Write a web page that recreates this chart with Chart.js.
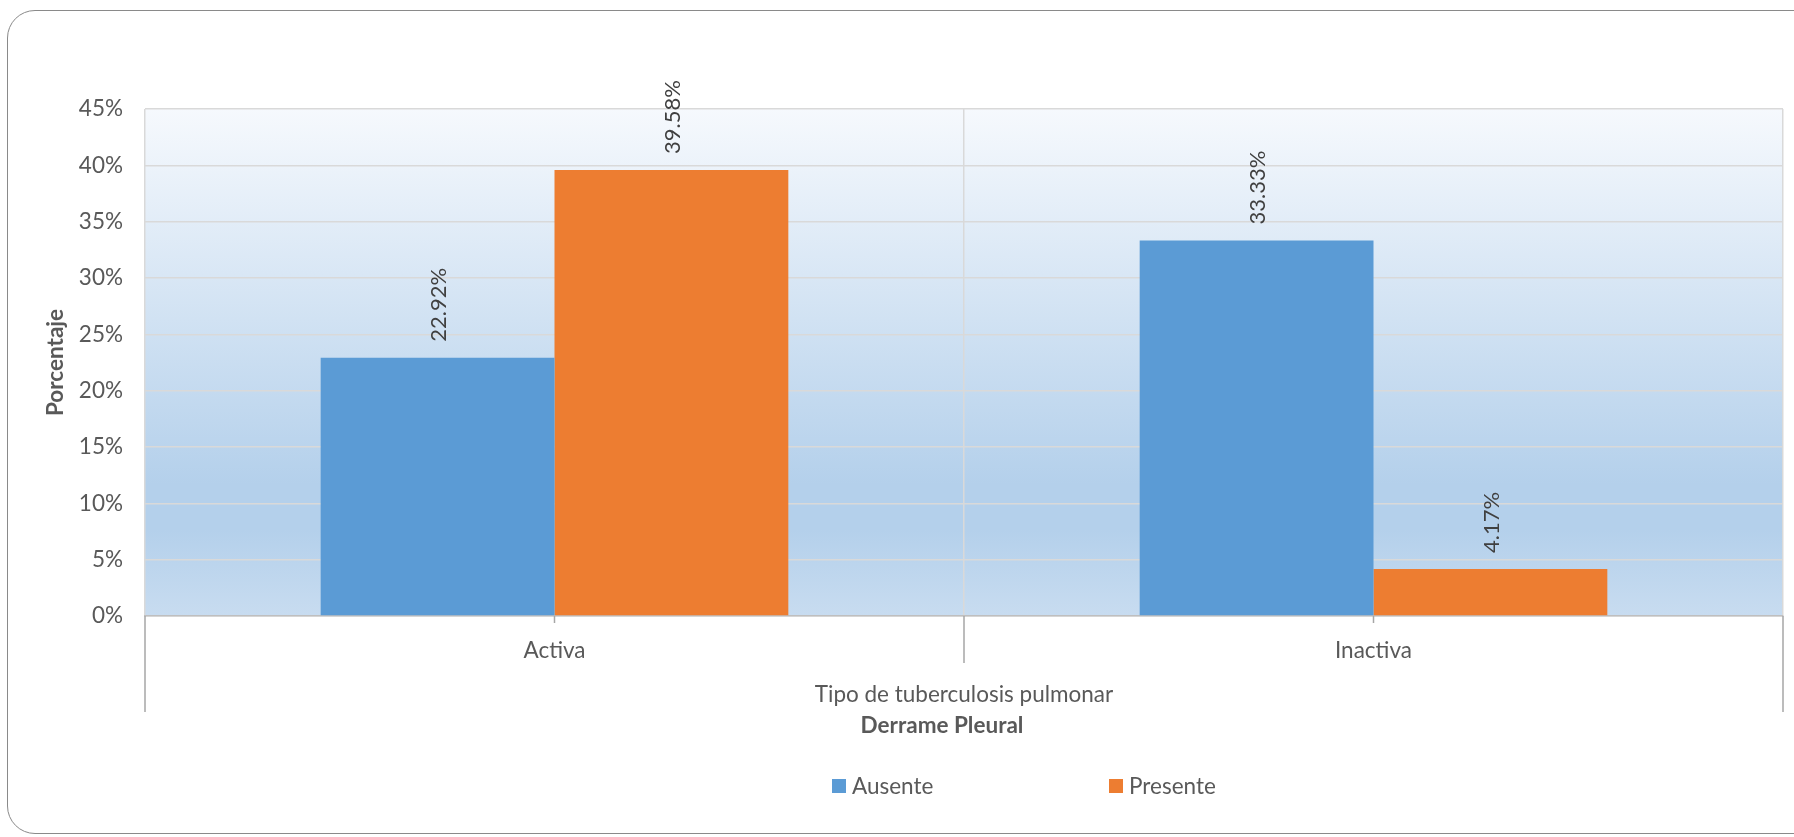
<!DOCTYPE html>
<html>
<head>
<meta charset="utf-8">
<script src="https://cdn.jsdelivr.net/npm/chart.js@4.4.1/dist/chart.umd.min.js"></script>
<style>
  html, body { margin: 0; padding: 0; background: #fff; overflow: hidden; }
  .card {
    position: absolute; left: 7px; top: 10px; width: 1820px; height: 822px;
    border: 1px solid #8a8a8a; border-radius: 28px; background: #fff;
  }
  #bar-chart { position: absolute; left: 0; top: 0; }
</style>
</head>
<body>
<div class="card"></div>
<canvas id="bar-chart" width="1794" height="837"></canvas>
<script>
// tipo de tuberculosis x derrame pleural (%)
const categories = ['Activa', 'Inactiva'];
const seriesNames = ['Ausente', 'Presente'];
const ausente = [22.92, 33.33];
const presente = [39.58, 4.17];
const yTicks = [0, 5, 10, 15, 20, 25, 30, 35, 40, 45];

const groupLabel = 'Tipo de tuberculosis pulmonar';
const axisTitle = 'Derrame Pleural';
const yTitle = 'Porcentaje';

const FONT = 'Lato';
const TEXT = '#595959';

// plot area fill, light to darker blue
const plotBackground = {
    id: 'plotBackground',
    beforeDraw(chart) {
        const { ctx, chartArea: a } = chart;
        const g = ctx.createLinearGradient(0, a.top, 0, a.bottom);
        g.addColorStop(0, '#f6f9fd');
        g.addColorStop(0.74, '#b4d0eb');
        g.addColorStop(0.83, '#b4d0eb');
        g.addColorStop(1, '#c8dcf0');
        ctx.save();
        ctx.fillStyle = g;
        ctx.fillRect(a.left, a.top, a.right - a.left, a.bottom - a.top);
        ctx.restore();
    }
};

// two-level category axis, value labels and legend
const extras = {
    id: 'extras',
    afterDraw(chart) {
        const { ctx, chartArea: a } = chart;
        const x = chart.scales.x;
        const mid = (a.left + a.right) / 2;
        ctx.save();

        // group separators below the axis
        ctx.strokeStyle = '#a6a6a6';
        ctx.lineWidth = 1.5;
        ctx.beginPath();
        ctx.moveTo(a.left, a.bottom); ctx.lineTo(a.left, a.bottom + 96);
        ctx.moveTo(a.right, a.bottom); ctx.lineTo(a.right, a.bottom + 96);
        ctx.moveTo(mid, a.bottom); ctx.lineTo(mid, a.bottom + 47);
        categories.forEach((c, i) => {
            const px = x.getPixelForValue(i);
            ctx.moveTo(px, a.bottom); ctx.lineTo(px, a.bottom + 7);
        });
        ctx.stroke();

        ctx.fillStyle = TEXT;
        ctx.textAlign = 'center';
        ctx.textBaseline = 'middle';
        ctx.font = '22.5px ' + FONT;
        ctx.fillText(groupLabel, mid, a.bottom + 79);
        ctx.font = 'bold 22.5px ' + FONT;
        ctx.fillText(axisTitle, mid - 22, a.bottom + 110);

        // value labels, rotated above each bar
        ctx.font = '22px ' + FONT;
        ctx.fillStyle = '#404040';
        ctx.textAlign = 'left';
        chart.data.datasets.forEach((ds, di) => {
            chart.getDatasetMeta(di).data.forEach((bar, i) => {
                ctx.save();
                ctx.translate(bar.x, bar.y - 16);
                ctx.rotate(-Math.PI / 2);
                ctx.fillText(ds.data[i].toFixed(2) + '%', 0, 1);
                ctx.restore();
            });
        });

        // legend
        const legendX = [mid - 132, mid + 145];
        const legendY = a.bottom + 170;
        chart.data.datasets.forEach((ds, di) => {
            ctx.fillStyle = ds.backgroundColor;
            ctx.fillRect(legendX[di], legendY - 7, 14, 14);
            ctx.fillStyle = TEXT;
            ctx.font = '22.5px ' + FONT;
            ctx.textAlign = 'left';
            ctx.fillText(ds.label, legendX[di] + 20, legendY + 1);
        });
        ctx.restore();
    }
};

const ctx = document.getElementById('bar-chart').getContext('2d');
new Chart(ctx, {
    type: 'bar',
    data: {
        labels: categories,
        datasets: [
            { label: seriesNames[0], data: ausente, backgroundColor: '#5b9bd5' },
            { label: seriesNames[1], data: presente, backgroundColor: '#ed7d31' }
        ]
    },
    options: {
        responsive: false,
        animation: false,
        devicePixelRatio: 1,
        layout: { padding: { left: 0, right: 11, top: 109, bottom: 121 } },
        datasets: { bar: { categoryPercentage: 0.571, barPercentage: 1 } },
        plugins: {
            legend: { display: false },
            tooltip: { enabled: false }
        },
        scales: {
            x: {
                afterFit: s => { s.height = 100; },
                grid: { offset: true, drawTicks: false, color: '#d9d9d9', lineWidth: 1.5 },
                border: { color: '#bfbfbf', width: 1.5 },
                ticks: { color: TEXT, font: { family: FONT, size: 22.5 }, padding: 21 }
            },
            y: {
                min: 0,
                max: 45,
                afterFit: s => { s.width = 145; },
                afterBuildTicks: s => { s.ticks = yTicks.map(v => ({ value: v })); },
                grid: { drawTicks: false, color: '#d9d9d9', lineWidth: 1.5 },
                border: { display: false },
                ticks: {
                    color: TEXT, font: { family: FONT, size: 22.5 }, padding: 22,
                    callback: v => v + '%'
                },
                title: {
                    display: true, text: yTitle, color: TEXT,
                    font: { family: FONT, size: 22.5, weight: 'bold' },
                    padding: { top: 42, bottom: 0 }
                }
            }
        }
    },
    plugins: [plotBackground, extras]
});
</script>
</body>
</html>
